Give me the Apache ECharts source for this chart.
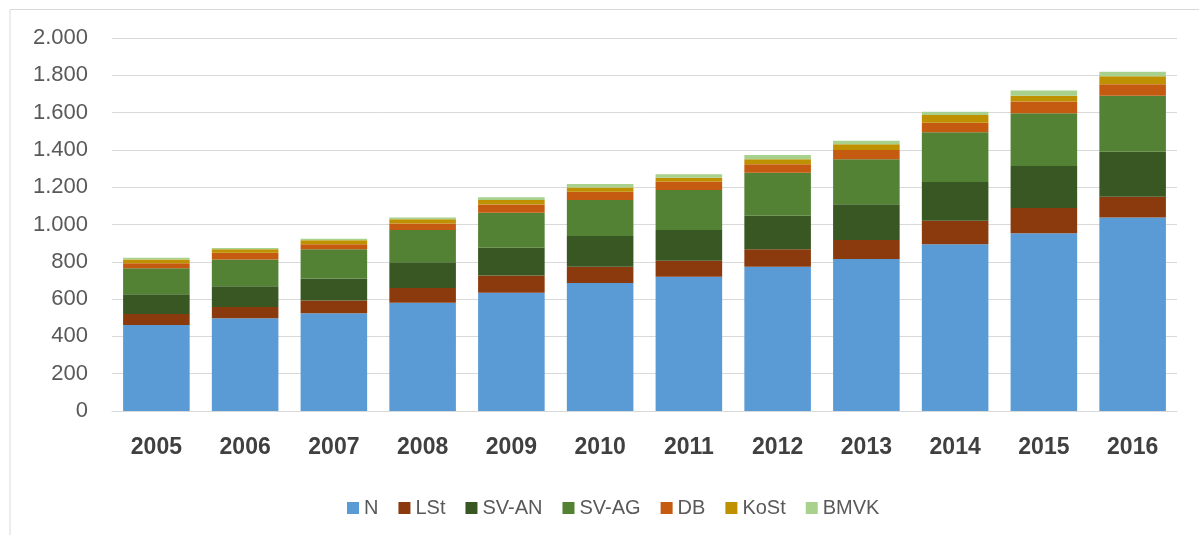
<!DOCTYPE html>
<html>
<head>
<meta charset="utf-8">
<script src="https://cdn.jsdelivr.net/npm/echarts@6/dist/echarts.min.js"></script>
<style>
  html, body { margin: 0; padding: 0; background: #fff; }
  #chart { width: 1199px; height: 535px; }
</style>
</head>
<body>
<div id="chart"></div>
<script>
const years = ["2005", "2006", "2007", "2008", "2009", "2010", "2011", "2012", "2013", "2014", "2015", "2016"];
const seriesNames = ["N", "LSt", "SV-AN", "SV-AG", "DB", "KoSt", "BMVK"];
const colors = ["#5B9BD5", "#8B3A0D", "#385723", "#548235", "#C55A11", "#BF9000", "#A9D18E"];

const nVals = [461, 497, 524, 581, 634, 686, 720, 774, 815, 894, 953, 1038];
const lstVals = [59, 61, 68, 79, 93, 88, 86, 93, 102, 126, 135, 111];
const svAnVals = [106, 111, 119, 137, 149, 164, 165, 180, 191, 208, 226, 241];
const svAgVals = [139, 144, 156, 174, 187, 193, 214, 231, 242, 266, 282, 301];
const dbVals = [27, 36, 27, 35, 44, 45, 45, 45, 49, 52, 63, 61];
const kostVals = [21, 18, 21, 22, 24, 23, 21, 27, 31, 41, 32, 43];
const bmvkVals = [9, 7, 9, 9, 15, 18, 18, 23, 19, 18, 27, 24];

const allVals = [nVals, lstVals, svAnVals, svAgVals, dbVals, kostVals, bmvkVals];

const myChart = echarts.init(document.getElementById("chart"));

const series = seriesNames.map(function (name, i) {
    return {
        name: name,
        type: "bar",
        stack: "total",
        barCategoryGap: "25%",
        itemStyle: { color: colors[i] },
        data: allVals[i],
    };
});

const option = {
    animation: false,
    color: colors,
    textStyle: { fontFamily: "Liberation Sans" },
    graphic: [
        {
            type: "polyline",
            shape: { points: [[10, 535], [10, 9.5], [1199, 9.5]] },
            style: { stroke: "#D9D9D9", lineWidth: 1, fill: null },
        },
    ],
    grid: { left: 112, right: 22, top: 38, bottom: 124 },
    legend: {
        data: seriesNames,
        left: 342,
        top: 493,
        itemWidth: 12,
        itemHeight: 12,
        itemGap: 20,
        itemTextGap: 5,
        icon: "rect",
        textStyle: { fontSize: 20, color: "#595959" },
    },
    xAxis: {
        type: "category",
        data: years,
        axisLine: { lineStyle: { color: "#D9D9D9" } },
        axisTick: { show: false },
        axisLabel: {
            fontSize: 23,
            fontWeight: "bold",
            color: "#404040",
            margin: 25,
        },
    },
    yAxis: {
        type: "value",
        min: 0,
        max: 2000,
        interval: 200,
        axisLine: { show: false },
        axisTick: { show: false },
        splitLine: { lineStyle: { color: "#D9D9D9" } },
        axisLabel: {
            fontSize: 22,
            color: "#595959",
            margin: 24,
            formatter: function (v) {
                return String(v).replace(/\B(?=(\d{3})+(?!\d))/g, ".");
            },
        },
    },
    series: series,
};

myChart.setOption(option);
window.addEventListener("resize", function () {
    myChart.resize();
});
</script>
</body>
</html>
